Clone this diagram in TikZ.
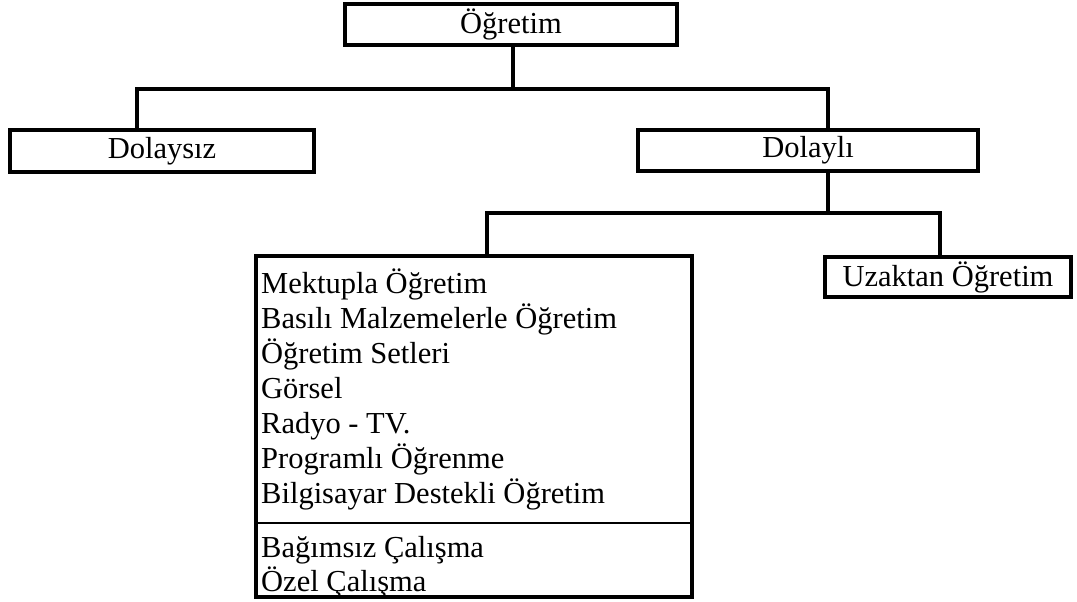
\documentclass[tikz,border=0pt]{standalone}
\usepackage{fontspec}
\setmainfont{Liberation Serif}
\begin{document}
\begin{tikzpicture}[x=1pt,y=-1pt,
  box/.style={draw,line width=3.5pt,inner sep=0pt,rectangle},
  conn/.style={line width=3.5pt},
  lbl/.style={font=\fontsize{30.5}{35}\selectfont},
  item/.style={lbl,anchor=base west,inner sep=0pt}]
\useasboundingbox (0,0) rectangle (1077,602);
\node[box,lbl,minimum width=332pt,minimum height=41pt] (top) at (511,24.5) {Öğretim};
\node[box,lbl,minimum width=304pt,minimum height=42pt] (dsz) at (162,151) {Dolaysız};
\node[box,lbl,minimum width=340pt,minimum height=41pt] (dly) at (808,150.5) {Dolaylı};
\node[box,minimum width=436pt,minimum height=341pt] (big) at (474,426.5) {};
\node[box,lbl,minimum width=246pt,minimum height=40pt] (uz) at (948,277) {Uzaktan Öğretim};
\node[item] (l1) at (261,293) {Mektupla Öğretim};
\node[item] (l2) at (261,328) {Basılı Malzemelerle Öğretim};
\node[item] (l3) at (261,363) {Öğretim Setleri};
\node[item] (l4) at (261,398) {Görsel};
\node[item] (l5) at (261,433) {Radyo - TV.};
\node[item] (l6) at (261,468) {Programlı Öğrenme};
\node[item] (l7) at (261,503) {Bilgisayar Destekli Öğretim};
\node[item] (l8) at (261,557) {Bağımsız Çalışma};
\node[item] (l9) at (261,591) {Özel Çalışma};
\coordinate (j1) at (513,89);
\coordinate (hl) at (137,89);
\coordinate (hr) at (828,89);
\coordinate (j2) at (828,213);
\coordinate (gl) at (487,213);
\coordinate (gr) at (940,213);
\coordinate (dl) at (256,523);
\coordinate (dr) at (692,523);
\draw[conn] (top.south -| j1) -- (j1);
\draw[conn] (dsz.north -| hl) -- (hl) -- (hr) -- (dly.north -| hr);
\draw[conn] (dly.south -| j2) -- (j2);
\draw[conn] (big.north -| gl) -- (gl) -- (gr) -- (uz.north -| gr);
\draw[line width=2.5pt] (dl) -- (dr);
\end{tikzpicture}
\end{document}
